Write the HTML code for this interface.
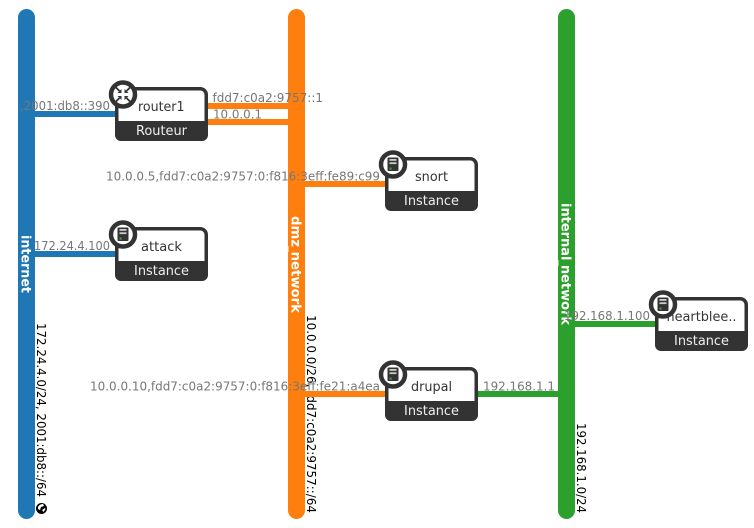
<!DOCTYPE html>
<html><head><meta charset="utf-8"><style>
html,body{margin:0;padding:0;background:#fff;width:754px;height:528px;overflow:hidden}
svg{display:block;font-family:"DejaVu Sans",sans-serif}
.ip{font-size:12.500px;fill:#777}
.sub{font-size:12.500px;fill:#000}
.net{font-size:13px;font-weight:bold;fill:#fff}
.nm{font-size:13px;fill:#333}
.ty{font-size:13px;fill:#eee}
</style></head><body>
<svg width="754" height="528" viewBox="0 0 754 528" xmlns="http://www.w3.org/2000/svg">
<defs>
<g id="srv">
<circle cx="0" cy="0" r="12" fill="#fff" stroke="#333" stroke-width="4.500"/>
<rect x="-5.500" y="-7" width="11" height="13.500" rx="1" fill="#333"/>
<rect x="-3.500" y="-5.500" width="7" height="1.800" fill="#ccc"/>
<rect x="-3.500" y="-2.200" width="7" height="1.800" fill="#ccc"/>
<rect x="-3.500" y="3" width="2.200" height="2.200" fill="#3c9a3c"/>
</g>
<g id="box">
<rect x="1.750" y="1.750" width="89.500" height="50.500" rx="6" fill="#fff" stroke="#333" stroke-width="3.500"/>
<path d="M0 34H93V48a6 6 0 0 1-6 6H6a6 6 0 0 1-6-6Z" fill="#333"/>
</g>
</defs>

<!-- networks -->
<rect x="18" y="9" width="17" height="510" rx="8.500" fill="#1f77b4"/>
<rect x="288" y="9" width="17" height="510" rx="8.500" fill="#ff7f0e"/>
<rect x="558" y="9" width="17" height="510" rx="8.500" fill="#2ca02c"/>
<rect x="287.500" y="246" width="1" height="6" fill="#fff4c0"/>
<rect x="557.500" y="260" width="1" height="6" fill="#f4fbc0"/>

<text class="net" transform="translate(21.500,235) rotate(90)" textLength="58" lengthAdjust="spacingAndGlyphs">internet</text>
<text class="net" transform="translate(291.500,216) rotate(90)" textLength="97" lengthAdjust="spacingAndGlyphs">dmz network</text>
<text class="net" transform="translate(561.500,203) rotate(90)" textLength="122" lengthAdjust="spacingAndGlyphs">internal network</text>

<text class="sub" transform="translate(37,323) rotate(90)" textLength="174" lengthAdjust="spacingAndGlyphs">172.24.4.0/24, 2001:db8::/64</text>
<text class="sub" transform="translate(307,315) rotate(90)" textLength="198" lengthAdjust="spacingAndGlyphs">10.0.0.0/26, fdd7:c0a2:9757::/64</text>
<text class="sub" transform="translate(577,423) rotate(90)" textLength="90" lengthAdjust="spacingAndGlyphs">192.168.1.0/24</text>

<!-- connectors -->
<rect x="35" y="111" width="82" height="6" fill="#1f77b4"/>
<rect x="35" y="251" width="82" height="6" fill="#1f77b4"/>
<rect x="206" y="103" width="82" height="6" fill="#ff7f0e"/>
<rect x="206" y="119" width="82" height="6" fill="#ff7f0e"/>
<rect x="305" y="181" width="82" height="6" fill="#ff7f0e"/>
<rect x="305" y="391" width="82" height="6" fill="#ff7f0e"/>
<rect x="476" y="391" width="82" height="6" fill="#2ca02c"/>
<rect x="575" y="321" width="82" height="6" fill="#2ca02c"/>

<!-- globe -->
<circle cx="41.500" cy="508.500" r="5.500" fill="#000"/>
<path d="M38 507c1-2 3-3 5-3l1 2-3 1-1 3-2-1ZM42 510l3-2 0.500 1-2 3Z" fill="#fff"/>

<!-- nodes -->
<g transform="translate(115,87)"><use href="#box"/><text class="nm" x="23" y="24" textLength="46.500" lengthAdjust="spacingAndGlyphs">router1</text><text class="ty" x="21" y="48" textLength="51" lengthAdjust="spacingAndGlyphs">Routeur</text></g>
<g transform="translate(115,227)"><use href="#box"/><text class="nm" x="26" y="24" textLength="41" lengthAdjust="spacingAndGlyphs">attack</text><text class="ty" x="19" y="48" textLength="55" lengthAdjust="spacingAndGlyphs">Instance</text></g>
<g transform="translate(385,157)"><use href="#box"/><text class="nm" x="30" y="24" textLength="33" lengthAdjust="spacingAndGlyphs">snort</text><text class="ty" x="19" y="48" textLength="55" lengthAdjust="spacingAndGlyphs">Instance</text></g>
<g transform="translate(385,367)"><use href="#box"/><text class="nm" x="26" y="24" textLength="41" lengthAdjust="spacingAndGlyphs">drupal</text><text class="ty" x="19" y="48" textLength="55" lengthAdjust="spacingAndGlyphs">Instance</text></g>
<g transform="translate(655,297)"><use href="#box"/><text class="nm" x="11.500" y="24" textLength="70" lengthAdjust="spacingAndGlyphs">heartblee..</text><text class="ty" x="19" y="48" textLength="55" lengthAdjust="spacingAndGlyphs">Instance</text></g>

<!-- node icons -->
<g transform="translate(123,94.500)">
<circle r="12" fill="#fff" stroke="#333" stroke-width="4.500"/>
<path d="M-7-7L-3.500-3.500M7-7L3.500-3.500M-7 7L-3.500 3.500M7 7L3.500 3.500" stroke="#333" stroke-width="1.800"/>
<path d="M-1.500-5.500V-1.500H-5.500ZM1.500-5.500V-1.500H5.500ZM-1.500 5.500V1.500H-5.500ZM1.500 5.500V1.500H5.500Z" fill="#333"/>
</g>
<use href="#srv" x="123" y="234.500"/>
<use href="#srv" x="393" y="164.500"/>
<use href="#srv" x="393" y="374.500"/>
<use href="#srv" x="663" y="304.500"/>

<!-- ip labels -->
<text class="ip" x="20" y="110" textLength="90" lengthAdjust="spacingAndGlyphs">,2001:db8::390</text>
<text class="ip" x="34" y="250" textLength="76" lengthAdjust="spacingAndGlyphs">172.24.4.100</text>
<text class="ip" x="212.500" y="102" textLength="110.500" lengthAdjust="spacingAndGlyphs">fdd7:c0a2:9757::1</text>
<text class="ip" x="213" y="118.500" textLength="49" lengthAdjust="spacingAndGlyphs">10.0.0.1</text>
<text class="ip" x="106" y="180.500" textLength="274" lengthAdjust="spacingAndGlyphs">10.0.0.5,fdd7:c0a2:9757:0:f816:3eff:fe89:c99</text>
<text class="ip" x="90" y="390.500" textLength="290" lengthAdjust="spacingAndGlyphs">10.0.0.10,fdd7:c0a2:9757:0:f816:3eff:fe21:a4ea</text>
<text class="ip" x="483" y="390.500" textLength="72" lengthAdjust="spacingAndGlyphs">192.168.1.1</text>
<text class="ip" x="564" y="320" textLength="86" lengthAdjust="spacingAndGlyphs">192.168.1.100</text>
</svg>
</body></html>
